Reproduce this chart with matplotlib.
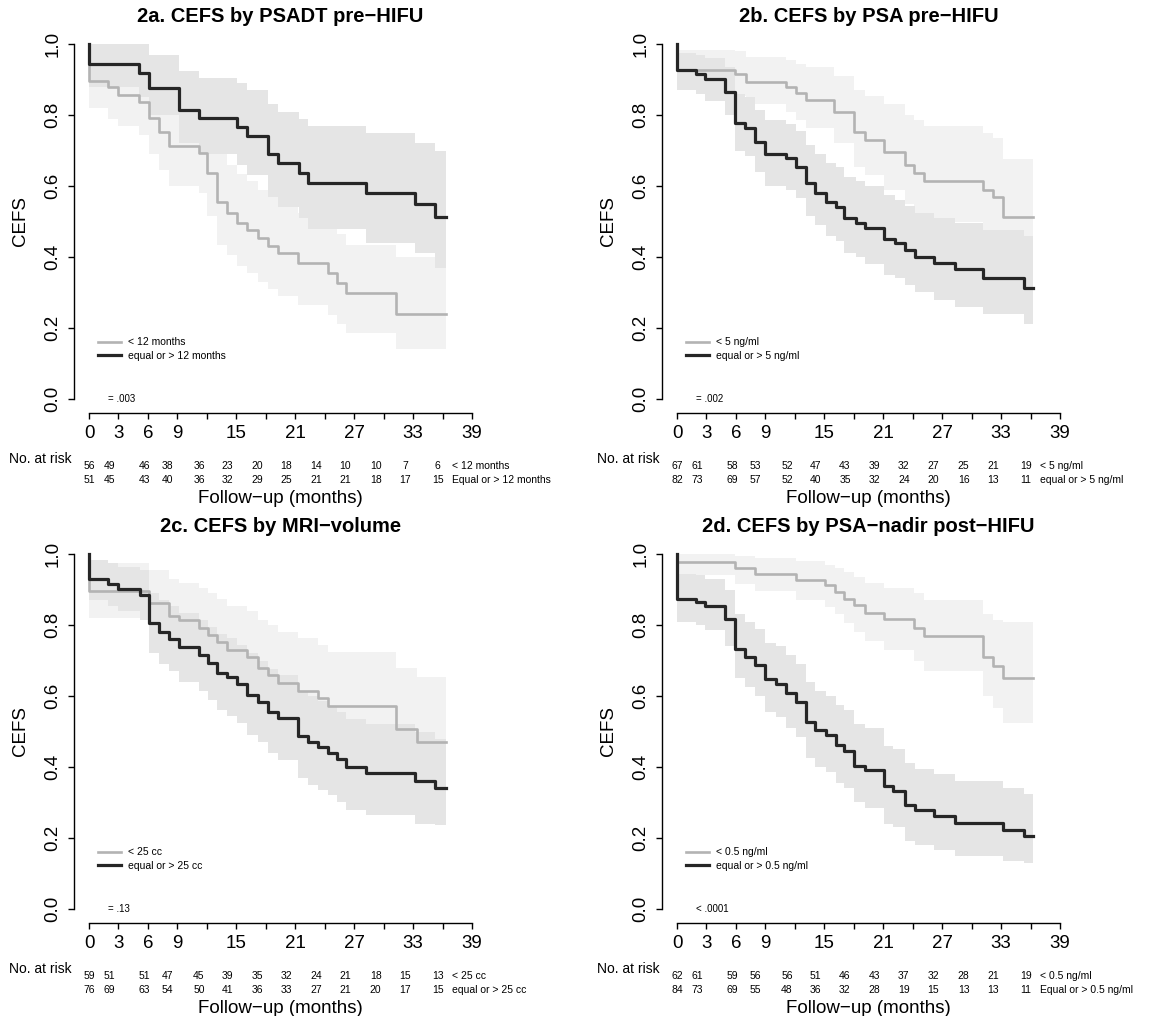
import matplotlib
matplotlib.use('Agg')
import matplotlib.pyplot as plt
from matplotlib.transforms import blended_transform_factory

plt.rcParams['font.family'] = ['Liberation Sans', 'DejaVu Sans']

# ---------------- data ----------------
titles = ["2a. CEFS by PSADT pre\u2212HIFU", "2b. CEFS by PSA pre\u2212HIFU",
          "2c. CEFS by MRI\u2212volume", "2d. CEFS by PSA\u2212nadir post\u2212HIFU"]
legend_low = ["< 12 months", "< 5 ng/ml", "< 25 cc", "< 0.5 ng/ml"]
legend_high = ["equal or > 12 months", "equal or > 5 ng/ml", "equal or > 25 cc", "equal or > 0.5 ng/ml"]
table_low = ["< 12 months", "< 5 ng/ml", "< 25 cc", "< 0.5 ng/ml"]
table_high = ["Equal or > 12 months", "equal or > 5 ng/ml", "equal or > 25 cc", "Equal or > 0.5 ng/ml"]
p_values = ["= .003", "= .002", "= .13", "< .0001"]
end_time = [36.4, 36.3, 36.4, 36.3]

x_ticks = [0, 3, 6, 9, 12, 15, 18, 21, 24, 27, 30, 33, 36, 39]
x_ticklabels = ["0", "3", "6", "9", "", "15", "", "21", "", "27", "", "33", "", "39"]
y_ticks = [0.0, 0.2, 0.4, 0.6, 0.8, 1.0]
y_ticklabels = ["0.0", "0.2", "0.4", "0.6", "0.8", "1.0"]

risk_times = [0, 2.1, 5.6, 8.0, 11.2, 14.1, 17.1, 20.1, 23.1, 26.1, 29.2, 32.2, 35.5]
risk_low = [[56, 49, 46, 38, 36, 23, 20, 18, 14, 10, 10, 7, 6],
            [67, 61, 58, 53, 52, 47, 43, 39, 32, 27, 25, 21, 19],
            [59, 51, 51, 47, 45, 39, 35, 32, 24, 21, 18, 15, 13],
            [62, 61, 59, 56, 56, 51, 46, 43, 37, 32, 28, 21, 19]]
risk_high = [[51, 45, 43, 40, 36, 32, 29, 25, 21, 21, 18, 17, 15],
             [82, 73, 69, 57, 52, 40, 35, 32, 24, 20, 16, 13, 11],
             [76, 69, 63, 54, 50, 41, 36, 33, 27, 21, 20, 17, 15],
             [84, 73, 69, 55, 48, 36, 32, 28, 19, 15, 13, 13, 11]]

# Panel a
a_low_t = [0, 1.98, 3.0, 5.05, 6.07, 7.1, 8.12, 11.19, 12.0, 13.07, 14.09, 15.1, 16.1, 17.16, 18.2, 19.2, 21.26, 24.3, 25.3, 26.2, 31.3]
a_low_s = [0.897, 0.878, 0.856, 0.838, 0.791, 0.753, 0.713, 0.694, 0.636, 0.556, 0.525, 0.497, 0.476, 0.453, 0.431, 0.410, 0.384, 0.354, 0.326, 0.298, 0.239]
a_low_up = [0.975, 0.965, 0.95, 0.935, 0.895, 0.865, 0.83, 0.815, 0.765, 0.69, 0.66, 0.635, 0.615, 0.59, 0.57, 0.55, 0.525, 0.495, 0.465, 0.435, 0.40]
a_low_lo = [0.82, 0.79, 0.77, 0.745, 0.69, 0.645, 0.60, 0.58, 0.515, 0.435, 0.405, 0.375, 0.355, 0.33, 0.31, 0.29, 0.265, 0.235, 0.21, 0.185, 0.14]
a_high_t = [0, 5.05, 6.07, 9.14, 11.19, 15.1, 16.1, 18.2, 19.2, 21.4, 22.3, 28.2, 33.2, 35.2]
a_high_s = [0.943, 0.920, 0.877, 0.814, 0.791, 0.767, 0.741, 0.690, 0.664, 0.636, 0.609, 0.579, 0.549, 0.512]
a_high_up = [1.0, 1.0, 0.97, 0.925, 0.905, 0.89, 0.87, 0.83, 0.81, 0.79, 0.77, 0.75, 0.72, 0.70]
a_high_lo = [0.88, 0.85, 0.80, 0.72, 0.69, 0.66, 0.63, 0.57, 0.54, 0.51, 0.48, 0.44, 0.41, 0.37]

# Panel b
b_low_t = [0, 5.94, 7.06, 11.05, 12.08, 13.1, 16.0, 18.05, 19.1, 21.1, 23.2, 24.1, 25.2, 31.2, 32.2, 33.2]
b_low_s = [0.927, 0.915, 0.894, 0.880, 0.861, 0.844, 0.809, 0.753, 0.731, 0.697, 0.659, 0.638, 0.615, 0.590, 0.570, 0.512]
b_low_up = [0.985, 0.98, 0.965, 0.955, 0.945, 0.935, 0.91, 0.87, 0.855, 0.83, 0.80, 0.785, 0.77, 0.75, 0.735, 0.675]
b_low_lo = [0.87, 0.855, 0.83, 0.81, 0.785, 0.765, 0.72, 0.655, 0.63, 0.59, 0.55, 0.525, 0.50, 0.47, 0.45, 0.38]
b_high_t = [0, 1.94, 2.87, 4.91, 5.94, 6.96, 7.98, 9.0, 11.05, 12.08, 13.1, 14.1, 15.2, 16.2, 17.0, 18.2, 19.1, 21.1, 22.2, 23.2, 24.2, 26.2, 28.3, 31.2, 35.3]
b_high_s = [0.927, 0.917, 0.903, 0.866, 0.777, 0.765, 0.725, 0.690, 0.678, 0.654, 0.609, 0.581, 0.556, 0.542, 0.509, 0.497, 0.481, 0.452, 0.439, 0.420, 0.399, 0.382, 0.365, 0.340, 0.312]
b_high_up = [0.975, 0.97, 0.96, 0.935, 0.86, 0.85, 0.815, 0.785, 0.775, 0.755, 0.715, 0.69, 0.665, 0.655, 0.625, 0.615, 0.60, 0.575, 0.56, 0.545, 0.525, 0.51, 0.495, 0.475, 0.46]
b_high_lo = [0.87, 0.86, 0.84, 0.80, 0.70, 0.685, 0.64, 0.60, 0.59, 0.565, 0.515, 0.49, 0.46, 0.445, 0.41, 0.40, 0.38, 0.35, 0.34, 0.32, 0.30, 0.28, 0.26, 0.24, 0.21]

# Panel c
c_low_t = [0, 6.07, 8.12, 9.14, 11.19, 12.1, 13.07, 14.09, 16.1, 17.16, 18.2, 19.2, 21.26, 23.3, 24.3, 31.3, 33.4]
c_low_s = [0.897, 0.861, 0.825, 0.814, 0.793, 0.772, 0.753, 0.729, 0.709, 0.678, 0.659, 0.636, 0.615, 0.594, 0.572, 0.506, 0.471]
c_low_up = [0.975, 0.955, 0.93, 0.92, 0.905, 0.89, 0.875, 0.855, 0.84, 0.815, 0.80, 0.78, 0.765, 0.745, 0.725, 0.68, 0.655]
c_low_lo = [0.82, 0.775, 0.735, 0.72, 0.695, 0.67, 0.645, 0.62, 0.595, 0.56, 0.54, 0.51, 0.49, 0.465, 0.44, 0.36, 0.32]
c_high_t = [0, 1.98, 3.0, 5.15, 6.07, 7.1, 8.12, 9.14, 11.19, 12.1, 13.07, 14.09, 15.1, 16.1, 17.16, 18.2, 19.2, 21.26, 22.3, 23.3, 24.3, 25.3, 26.2, 28.2, 33.2, 35.2]
c_high_s = [0.929, 0.917, 0.903, 0.885, 0.805, 0.781, 0.762, 0.737, 0.715, 0.692, 0.666, 0.653, 0.634, 0.603, 0.584, 0.556, 0.537, 0.487, 0.471, 0.455, 0.439, 0.422, 0.401, 0.384, 0.361, 0.340]
c_high_up = [0.985, 0.975, 0.965, 0.955, 0.89, 0.87, 0.855, 0.835, 0.815, 0.795, 0.775, 0.765, 0.745, 0.72, 0.70, 0.675, 0.66, 0.615, 0.60, 0.585, 0.57, 0.555, 0.535, 0.52, 0.50, 0.48]
c_high_lo = [0.87, 0.855, 0.84, 0.815, 0.72, 0.69, 0.67, 0.64, 0.615, 0.59, 0.56, 0.545, 0.525, 0.49, 0.47, 0.44, 0.42, 0.37, 0.35, 0.335, 0.32, 0.30, 0.28, 0.265, 0.24, 0.235]

# Panel d
d_low_t = [0, 5.94, 7.98, 12.08, 15.05, 16.07, 17.0, 18.05, 19.1, 21.1, 24.1, 25.2, 31.2, 32.2, 33.2]
d_low_s = [0.978, 0.962, 0.945, 0.928, 0.912, 0.894, 0.875, 0.856, 0.835, 0.816, 0.793, 0.769, 0.711, 0.684, 0.652]
d_low_up = [1.0, 0.995, 0.99, 0.98, 0.97, 0.96, 0.95, 0.935, 0.92, 0.905, 0.89, 0.87, 0.83, 0.815, 0.81]
d_low_lo = [0.94, 0.915, 0.895, 0.87, 0.85, 0.83, 0.805, 0.78, 0.755, 0.73, 0.70, 0.67, 0.60, 0.565, 0.525]
d_high_t = [0, 1.94, 2.87, 4.91, 5.94, 6.96, 7.98, 9.0, 10.03, 11.05, 12.08, 13.1, 14.1, 15.2, 16.2, 17.0, 18.05, 19.1, 21.1, 22.0, 23.2, 24.2, 26.2, 28.3, 33.2, 35.3]
d_high_s = [0.875, 0.866, 0.854, 0.816, 0.734, 0.711, 0.687, 0.647, 0.634, 0.609, 0.584, 0.528, 0.504, 0.490, 0.462, 0.446, 0.403, 0.392, 0.345, 0.333, 0.293, 0.279, 0.262, 0.241, 0.222, 0.205]
d_high_up = [0.945, 0.94, 0.93, 0.90, 0.83, 0.81, 0.79, 0.75, 0.74, 0.715, 0.69, 0.64, 0.615, 0.60, 0.575, 0.56, 0.52, 0.51, 0.46, 0.45, 0.41, 0.395, 0.38, 0.36, 0.34, 0.325]
d_high_lo = [0.81, 0.80, 0.785, 0.74, 0.65, 0.625, 0.60, 0.555, 0.54, 0.51, 0.485, 0.425, 0.40, 0.385, 0.355, 0.34, 0.30, 0.285, 0.24, 0.23, 0.19, 0.18, 0.165, 0.15, 0.135, 0.13]

panels = [
    (a_low_t, a_low_s, a_low_up, a_low_lo, a_high_t, a_high_s, a_high_up, a_high_lo),
    (b_low_t, b_low_s, b_low_up, b_low_lo, b_high_t, b_high_s, b_high_up, b_high_lo),
    (c_low_t, c_low_s, c_low_up, c_low_lo, c_high_t, c_high_s, c_high_up, c_high_lo),
    (d_low_t, d_low_s, d_low_up, d_low_lo, d_high_t, d_high_s, d_high_up, d_high_lo),
]

# ---------------- style ----------------
W, H = 1152, 1016
LIGHT_LINE = "#b3b3b3"
DARK_LINE = "#262626"
LIGHT_BAND = "#f2f2f2"
DARK_BAND = "#e5e5e5"

fig = plt.figure(figsize=(W / 100, H / 100), dpi=100)
fig.patch.set_facecolor("white")

# pixel boxes (left, top, right, bottom)
boxes = [(74, 30, 487, 413), (662, 30, 1075, 413),
         (74, 540, 487, 923), (662, 540, 1075, 923)]


def add_ax(box):
    l, t, r, b = box
    return fig.add_axes([l / W, 1 - b / H, (r - l) / W, (b - t) / H])


for i, box in enumerate(boxes):
    ax = add_ax(box)
    lt, ls, lu, ll, ht, hs, hu, hl = panels[i]
    end = end_time[i]

    # confidence bands
    ax.fill_between(lt + [end], lu + [lu[-1]], ll + [ll[-1]], step="post",
                    color=LIGHT_BAND, lw=0, zorder=1)
    ax.fill_between(ht + [end], hu + [hu[-1]], hl + [hl[-1]], step="post",
                    color=DARK_BAND, lw=0, zorder=2)

    # survival curves
    ax.step([0] + lt + [end], [1.0] + ls + [ls[-1]], where="post",
            color=LIGHT_LINE, lw=1.9, zorder=3, label=legend_low[i])
    ax.step([0] + ht + [end], [1.0] + hs + [hs[-1]], where="post",
            color=DARK_LINE, lw=2.3, zorder=4, label=legend_high[i])

    ax.set_xlim(-1.53, 40.53)
    ax.set_ylim(-0.04, 1.04)
    for s in ("top", "right"):
        ax.spines[s].set_visible(False)
    ax.spines["left"].set_bounds(0, 1)
    ax.spines["bottom"].set_bounds(0, 39)
    ax.spines["left"].set_linewidth(1.0)
    ax.spines["bottom"].set_linewidth(1.0)

    ax.set_xticks(x_ticks)
    ax.set_xticklabels(x_ticklabels)
    ax.set_yticks(y_ticks)
    ax.set_yticklabels(y_ticklabels, rotation=90, va="center")
    ax.tick_params(axis="both", direction="out", length=4, width=1.0,
                   labelsize=13.5, pad=5)

    ax.text(0.5, 1.035, titles[i], transform=ax.transAxes, ha="center",
            va="center", fontsize=14.5, fontweight="bold")
    ax.text(-0.13, 0.5, "CEFS", transform=ax.transAxes, rotation=90,
            ha="center", va="center", fontsize=13.5)

    ax.text(1.9, 0.0, p_values[i], ha="left", va="center", fontsize=7)

    leg = ax.legend(loc="upper left", bbox_to_anchor=(0.058, 0.198),
                    frameon=False, fontsize=7.5, handlelength=2.2,
                    handletextpad=0.7, labelspacing=0.35, borderpad=0,
                    borderaxespad=0)

    tr = blended_transform_factory(ax.transData, ax.transAxes)
    ax.text(-1.73, -0.120, "No. at risk", transform=tr, ha="right",
            va="center", fontsize=10)
    for k, tx in enumerate(risk_times):
        ax.text(tx, -0.138, str(risk_low[i][k]), transform=tr, ha="center",
                va="center", fontsize=7.5)
        ax.text(tx, -0.175, str(risk_high[i][k]), transform=tr, ha="center",
                va="center", fontsize=7.5)
    ax.text(37.0, -0.138, table_low[i], transform=tr, ha="left",
            va="center", fontsize=7.5)
    ax.text(37.0, -0.175, table_high[i], transform=tr, ha="left",
            va="center", fontsize=7.5)
    ax.text(19.5, -0.222, "Follow\u2212up (months)", transform=tr,
            ha="center", va="center", fontsize=13.5)

fig.savefig("out.png", dpi=100)
